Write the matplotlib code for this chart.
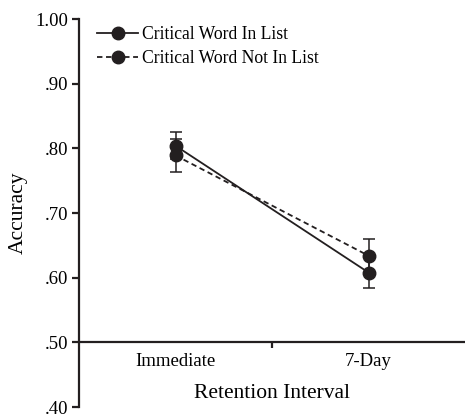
import numpy as np
import matplotlib.pyplot as plt
from matplotlib.lines import Line2D
from matplotlib.ticker import FixedLocator, FuncFormatter

plt.rcParams['font.family'] = ['Liberation Serif', 'DejaVu Serif']

# dados
intervalos = ['Immediate', '7-Day']
em_lista = [0.804, 0.608]
em_lista_err = [0.021, 0.024]
fora_lista = [0.789, 0.634]
fora_lista_err = [0.025, 0.026]

cor = '#231f20'
x = np.arange(len(intervalos))

fig = plt.figure(figsize=(4.65, 4.16), dpi=100)
ax = fig.add_axes([0.17, 0.0216, 0.83, 0.9327])

ax.errorbar(x, em_lista, yerr=em_lista_err, color=cor, linestyle='-', linewidth=1.3,
            marker='o', markersize=9, capsize=4, elinewidth=1.1, capthick=1.1)
ax.errorbar(x, fora_lista, yerr=fora_lista_err, color=cor, linestyle='--', linewidth=1.3,
            dashes=(3, 2), marker='o', markersize=9, capsize=4, elinewidth=1.1, capthick=1.1)

ax.set_xlim(-0.5, 1.5)
ax.set_ylim(0.40, 1.00)

# eixos
ax.spines['top'].set_visible(False)
ax.spines['right'].set_visible(False)
ax.spines['bottom'].set_position(('data', 0.5))
ax.spines['left'].set_linewidth(1.6)
ax.spines['bottom'].set_linewidth(1.6)
ax.spines['left'].set_color(cor)
ax.spines['bottom'].set_color(cor)

ax.set_xticks(x)
ax.set_xticklabels(intervalos, fontsize=13.5)
ax.tick_params(axis='x', which='major', length=0, pad=8)
ax.xaxis.set_minor_locator(FixedLocator([0.5]))
ax.tick_params(axis='x', which='minor', length=4, width=1.6, direction='out', color=cor)

ax.set_yticks(np.arange(0.40, 1.001, 0.10))
ax.yaxis.set_major_formatter(FuncFormatter(lambda v, p: '1.00' if v > 0.995 else ('%.2f' % v)[1:]))
ax.tick_params(axis='y', length=5, width=1.6, color=cor, labelsize=13.5, pad=3)

ax.set_xlabel('Retention Interval', fontsize=15.5, labelpad=10)
ax.set_ylabel('Accuracy', fontsize=15.5, labelpad=5)

# legenda sem barras de erro
handles = [Line2D([], [], color=cor, linestyle='-', linewidth=1.3, marker='o', markersize=9),
           Line2D([], [], color=cor, linestyle='--', dashes=(3, 2), linewidth=1.3, marker='o', markersize=9)]
labels = ['Critical Word In List', 'Critical Word Not In List']
ax.legend(handles, labels, loc='upper left', bbox_to_anchor=(0.02, 1.01), frameon=False,
          fontsize=12.7, handlelength=2.3, handletextpad=0.25, labelspacing=0.4, borderaxespad=0.2)

plt.savefig('out.png', dpi=100)
